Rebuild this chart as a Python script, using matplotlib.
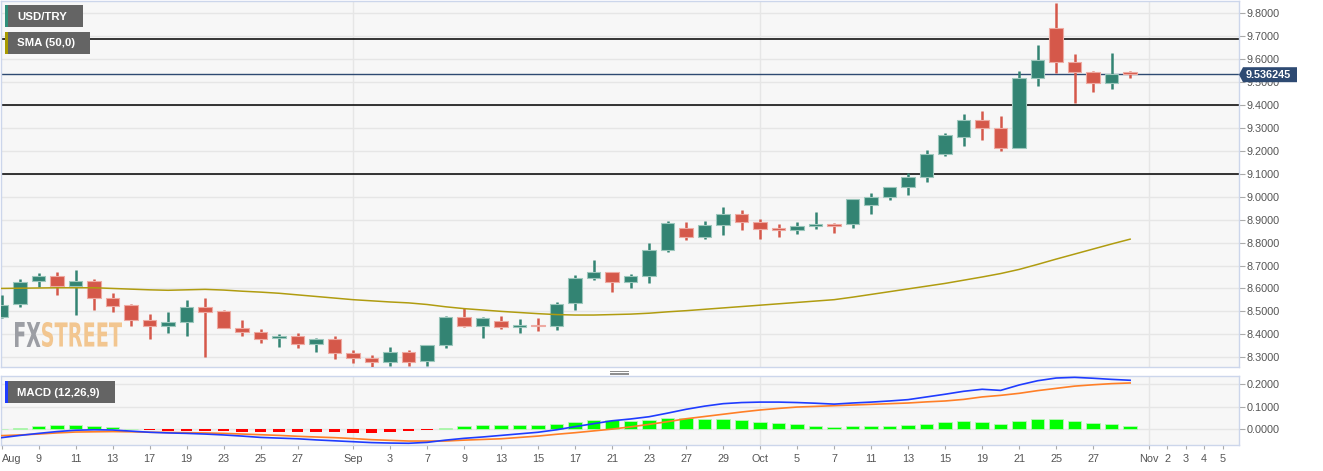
import numpy as np
import matplotlib
matplotlib.use("Agg")
import matplotlib.pyplot as plt
from matplotlib.patches import Rectangle, Polygon, PathPatch
from matplotlib.lines import Line2D
from matplotlib.textpath import TextPath
from matplotlib.font_manager import FontProperties
from matplotlib.transforms import Affine2D

# daily USD/TRY candles, Aug 5 - Oct 29 (trading days only)
opens = [8.477, 8.531, 8.634, 8.654, 8.612, 8.633, 8.557, 8.528, 8.461, 8.436,
         8.454, 8.518, 8.503, 8.426, 8.410, 8.383, 8.393, 8.357, 8.378, 8.317,
         8.298, 8.281, 8.324, 8.284, 8.354, 8.474, 8.438, 8.460, 8.431, 8.442,
         8.436, 8.535, 8.646, 8.672, 8.627, 8.654, 8.768, 8.862, 8.823, 8.877,
         8.925, 8.891, 8.864, 8.855, 8.874, 8.882, 8.880, 8.964, 9.000, 9.044,
         9.087, 9.185, 9.262, 9.335, 9.301, 9.214, 9.519, 9.737, 9.588, 9.544,
         9.497, 9.544]
closes = [8.528, 8.630, 8.654, 8.611, 8.633, 8.557, 8.525, 8.463, 8.436, 8.454,
          8.518, 8.496, 8.429, 8.412, 8.381, 8.393, 8.357, 8.381, 8.317, 8.298,
          8.281, 8.324, 8.281, 8.354, 8.474, 8.438, 8.470, 8.431, 8.442, 8.435,
          8.532, 8.644, 8.672, 8.627, 8.654, 8.768, 8.884, 8.823, 8.875, 8.923,
          8.891, 8.861, 8.855, 8.874, 8.882, 8.874, 8.989, 9.000, 9.044, 9.087,
          9.185, 9.269, 9.335, 9.301, 9.214, 9.517, 9.596, 9.589, 9.544, 9.497,
          9.535, 9.536245]
highs = [8.571, 8.640, 8.666, 8.672, 8.681, 8.640, 8.582, 8.532, 8.489, 8.497,
         8.550, 8.557, 8.506, 8.463, 8.422, 8.402, 8.405, 8.384, 8.393, 8.332,
         8.310, 8.346, 8.332, 8.354, 8.481, 8.513, 8.477, 8.480, 8.467, 8.471,
         8.542, 8.659, 8.724, 8.672, 8.663, 8.800, 8.894, 8.891, 8.894, 8.957,
         8.942, 8.903, 8.881, 8.890, 8.933, 8.887, 8.989, 9.015, 9.044, 9.102,
         9.204, 9.277, 9.361, 9.374, 9.352, 9.548, 9.662, 9.846, 9.622, 9.550,
         9.628, 9.547]
lows = [8.471, 8.518, 8.608, 8.573, 8.484, 8.506, 8.499, 8.438, 8.381, 8.407,
        8.393, 8.300, 8.426, 8.394, 8.364, 8.344, 8.342, 8.324, 8.294, 8.276,
        8.259, 8.262, 8.262, 8.262, 8.342, 8.431, 8.385, 8.423, 8.407, 8.416,
        8.419, 8.506, 8.637, 8.586, 8.603, 8.625, 8.760, 8.811, 8.816, 8.833,
        8.855, 8.816, 8.826, 8.838, 8.859, 8.843, 8.865, 8.923, 8.986, 9.008,
        9.066, 9.179, 9.223, 9.247, 9.200, 9.214, 9.484, 9.541, 9.410, 9.457,
        9.470, 9.518]
sma50 = [8.600, 8.601, 8.602, 8.603, 8.603, 8.603, 8.600, 8.597, 8.594, 8.592,
         8.594, 8.596, 8.593, 8.588, 8.584, 8.579, 8.572, 8.565, 8.558, 8.551,
         8.546, 8.541, 8.537, 8.530, 8.520, 8.512, 8.506, 8.500, 8.495, 8.490,
         8.486, 8.484, 8.484, 8.486, 8.488, 8.492, 8.498, 8.503, 8.509, 8.515,
         8.521, 8.527, 8.533, 8.539, 8.545, 8.551, 8.562, 8.574, 8.586, 8.598,
         8.610, 8.622, 8.636, 8.650, 8.665, 8.683, 8.705, 8.728, 8.750, 8.772,
         8.794, 8.815]
macd = [-0.037, -0.027, -0.018, -0.010, -0.004, -0.002, -0.003, -0.008, -0.013, -0.016,
        -0.018, -0.021, -0.025, -0.030, -0.036, -0.039, -0.042, -0.047, -0.051, -0.055,
        -0.059, -0.061, -0.062, -0.058, -0.048, -0.040, -0.034, -0.027, -0.020, -0.013,
        -0.002, 0.012, 0.025, 0.038, 0.046, 0.056, 0.072, 0.089, 0.103, 0.114,
        0.119, 0.121, 0.121, 0.119, 0.116, 0.112, 0.117, 0.121, 0.126, 0.132,
        0.144, 0.156, 0.169, 0.178, 0.173, 0.197, 0.216, 0.228, 0.231, 0.227,
        0.222, 0.218]
signal = [-0.028, -0.025, -0.021, -0.016, -0.012, -0.011, -0.010, -0.011, -0.013, -0.014,
          -0.015, -0.016, -0.018, -0.021, -0.024, -0.027, -0.031, -0.034, -0.037, -0.041,
          -0.046, -0.049, -0.052, -0.052, -0.052, -0.048, -0.045, -0.042, -0.036, -0.030,
          -0.022, -0.015, -0.007, 0.001, 0.011, 0.022, 0.034, 0.047, 0.057, 0.067,
          0.077, 0.086, 0.093, 0.099, 0.102, 0.105, 0.108, 0.111, 0.114, 0.117,
          0.122, 0.126, 0.133, 0.144, 0.151, 0.160, 0.172, 0.182, 0.192, 0.198,
          0.203, 0.206]
hist = [0.002, 0.004, 0.016, 0.019, 0.021, 0.015, 0.010, 0.003, -0.005, -0.006,
        -0.007, -0.008, -0.009, -0.010, -0.011, -0.011, -0.012, -0.013, -0.014, -0.015,
        -0.015, -0.012, -0.009, -0.003, 0.005, 0.015, 0.019, 0.019, 0.019, 0.019,
        0.024, 0.033, 0.040, 0.040, 0.037, 0.043, 0.050, 0.049, 0.047, 0.047,
        0.043, 0.034, 0.028, 0.022, 0.016, 0.012, 0.015, 0.015, 0.016, 0.019,
        0.025, 0.031, 0.037, 0.034, 0.025, 0.036, 0.045, 0.046, 0.039, 0.030,
        0.022, 0.013]
levels = [9.69, 9.40, 9.10]
last_price = 9.536245

tick_idx = [0, 2, 4, 6, 8, 10, 12, 14, 16, 19, 21, 23, 25, 27, 29, 31, 33, 35, 37, 39,
            41, 43, 45, 47, 49, 51, 53, 55, 57, 59, 62, 63, 64, 65, 66]
tick_labels = ['Aug', '9', '11', '13', '17', '19', '23', '25', '27', 'Sep', '3', '7', '9',
               '13', '15', '17', '21', '23', '27', '29', 'Oct', '5', '7', '11', '13', '15',
               '19', '21', '25', '27', 'Nov', '2', '3', '4', '5']
month_idx = [19, 41, 62]

W, H = 1323, 471
GREEN, RED = '#338473', '#d5584a'
SPINE = '#ccd6eb'
GRID = '#e6e6e6'
plt.rcParams['font.family'] = ['Liberation Sans', 'DejaVu Sans']

fig = plt.figure(figsize=(W / 100, H / 100), dpi=100)
fig.patch.set_facecolor('white')

def fbox(x, y, w, h):
    # pixel box (top-left origin) -> figure fraction
    return [x / W, 1 - (y + h) / H, w / W, h / H]

ax = fig.add_axes(fbox(1, 1, 1238.3, 366.3))
ax2 = fig.add_axes(fbox(1, 376, 1238.3, 69.3), sharex=ax)

idx = np.arange(len(opens))
o, c, hi, lo = map(np.array, (opens, closes, highs, lows))
up = c >= o
cols = np.where(up, GREEN, RED)
edge = np.where(up, '#9cc7bc', '#eeaaa2')
body_lo = np.minimum(o, c)
body_h = np.maximum(np.abs(c - o), 0.003)

for a in (ax, ax2):
    a.set_facecolor('#f7f7f7')
    for s in a.spines.values():
        s.set_color(SPINE)
        s.set_linewidth(1)
    a.yaxis.tick_right()
    a.grid(axis='y', color=GRID, lw=1, zorder=0)
    for m in month_idx:
        a.axvline(m, color=GRID, lw=1, zorder=0)
    a.tick_params(axis='y', length=4, width=0.8, color='#aaaaaa', labelcolor='#555555',
                  labelsize=7.8, pad=1.5)
    a.set_axisbelow(True)

# main price panel
ax.vlines(idx, lo, hi, colors=cols, lw=1.8, zorder=3)
ax.bar(idx, body_h, bottom=body_lo, width=0.74, color=cols, edgecolor=edge, lw=0.8, zorder=4)
ax.plot(idx, sma50, color='#b09c10', lw=1.1, zorder=5)
for lv in levels:
    ax.axhline(lv, color='black', lw=1.1, zorder=2)
ax.axhline(last_price, color='#2e4a72', lw=1, zorder=2)
ax.set_ylim(8.256, 9.854)
ax.set_yticks(np.round(np.arange(8.3, 9.81, 0.1), 1))
ax.yaxis.set_major_formatter(plt.FormatStrFormatter('%.4f'))
ax.tick_params(axis='x', bottom=False, labelbottom=False)

# watermark
fp = FontProperties(family='DejaVu Sans', weight='bold')
def stamp(txt, x0, x1, ytop, ybot, color):
    tp = TextPath((0, 0), txt, size=10, prop=fp)
    ext = tp.get_extents()
    tr = (Affine2D().translate(-ext.x0, -ext.y0)
          .scale((x1 - x0) / ext.width, (ybot - ytop) / ext.height)
          .translate(x0, H - ybot) + Affine2D().scale(1 / W, 1 / H) + fig.transFigure)
    ax.add_patch(PathPatch(tp, transform=tr, fc=color, ec='none', zorder=1))
stamp('FX', 15, 40.5, 322, 347, '#9c9ea4')
stamp('STREET', 42, 122, 322, 347, '#f2c690')

# MACD panel
hv = np.array(hist)
ax2.bar(idx[hv >= 0], hv[hv >= 0], width=0.74, color='#00ff00', edgecolor='#b8f5b8', lw=0.6, zorder=2)
ax2.bar(idx[hv < 0], hv[hv < 0], width=0.62, color='#ff0000', zorder=2)
ax2.plot(idx, signal, color='#ff7f27', lw=1.2, zorder=3)
ax2.plot(idx, macd, color='#1f3cff', lw=1.2, zorder=4)
ax2.set_ylim(-0.071, 0.237)
ax2.set_yticks([0.0, 0.1, 0.2])
ax2.yaxis.set_major_formatter(plt.FormatStrFormatter('%.4f'))
ax2.set_xlim(-0.03, 66.9)
ax2.set_xticks(tick_idx)
ax2.set_xticklabels(tick_labels)
ax2.tick_params(axis='x', length=3, width=0.8, color='#aaaaaa', labelcolor='#555555',
                labelsize=7.8, pad=3)
ax2.get_xticklabels()[0].set_horizontalalignment('left')

# legend tags
def tag(x, y, w, h, text, bar):
    fig.patches.append(Rectangle(fbox(x, y, w, h)[:2], w / W, h / H, transform=fig.transFigure,
                                 fc='#646464', ec='none', zorder=10))
    fig.patches.append(Rectangle(fbox(x, y, 3, h)[:2], 3 / W, h / H, transform=fig.transFigure,
                                 fc=bar, ec='none', zorder=11))
    fig.text((x + 12) / W, 1 - (y + h / 2 + 0.5) / H, text, color='white', fontsize=8.2,
             fontweight='bold', va='center', ha='left', zorder=12)
tag(5, 5, 78, 22, 'USD/TRY', '#2f8f7a')
tag(5, 32, 85, 22, 'SMA (50,0)', '#a89a00')
tag(5, 381, 110, 22, 'MACD (12,26,9)', '#1f3cff')

# last price label
py = 74.7
pts = [(1239, py), (1243, py - 7.5), (1297, py - 7.5), (1297, py + 7.5), (1243, py + 7.5)]
fig.patches.append(Polygon([(px / W, 1 - yy / H) for px, yy in pts], closed=True,
                           transform=fig.transFigure, fc='#2e4a72', ec='none', zorder=10))
fig.text(1246 / W, 1 - (py + 0.5) / H, f'{last_price:.6f}', color='white', fontsize=7.8,
         fontweight='bold', va='center', ha='left', zorder=12)

# splitter grip between panels
for yy in (370.8, 372.5, 374.2):
    fig.lines.append(Line2D([610 / W, 628 / W], [1 - yy / H] * 2, transform=fig.transFigure,
                            color='#8c8c8c', lw=0.7))

fig.savefig('out.png', dpi=100)
